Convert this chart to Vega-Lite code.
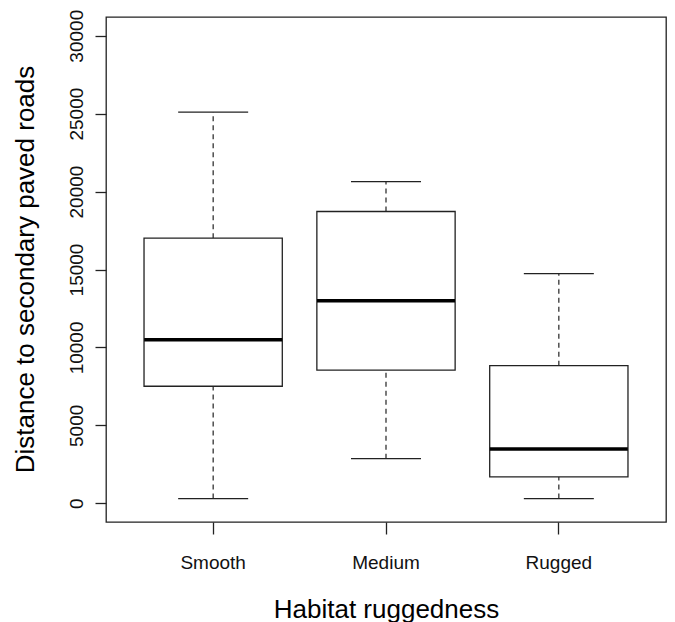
{
  "$schema": "https://vega.github.io/schema/vega-lite/v6.json",
  "autosize": {"type": "none"},
  "padding": {"left": 106, "top": 17, "right": 9, "bottom": 100},
  "width": 560,
  "height": 505,
  "background": "white",
  "config": {
    "font": "Liberation Sans",
    "view": {"stroke": "#222", "strokeWidth": 1.3},
    "axis": {"grid": false}
  },
  "data": {
    "values": [
      {"habitat": "Smooth", "min": 300, "q1": 7510, "median": 10500, "q3": 17010, "max": 25100},
      {"habitat": "Medium", "min": 2860, "q1": 8540, "median": 13000, "q3": 18720, "max": 20640},
      {"habitat": "Rugged", "min": 300, "q1": 1690, "median": 3490, "q3": 8830, "max": 14740}
    ]
  },
  "encoding": {
    "x": {
      "field": "habitat",
      "type": "nominal",
      "sort": ["Smooth", "Medium", "Rugged"],
      "scale": {"paddingInner": 0, "paddingOuter": 0.12},
      "axis": {
        "title": "Habitat ruggedness",
        "domain": false,
        "labelAngle": 0,
        "labelFontSize": 19,
        "labelColor": "#111",
        "labelPadding": 19,
        "tickSize": 12,
        "tickColor": "#222",
        "tickWidth": 1.3,
        "titleFontSize": 26,
        "titleFontWeight": "normal",
        "titleColor": "#000",
        "titleBaseline": "alphabetic",
        "titleY": 95
      }
    }
  },
  "layer": [
    {
      "mark": {"type": "rule", "strokeDash": [5, 4], "color": "#222", "strokeWidth": 1.2},
      "encoding": {
        "y": {
          "field": "q3",
          "type": "quantitative",
          "scale": {"domain": [-1200, 31200], "nice": false, "zero": false},
          "axis": {
            "title": "Distance to secondary paved roads",
            "values": [0, 5000, 10000, 15000, 20000, 25000, 30000],
            "domain": false,
            "labelAngle": -90,
            "labelAlign": "center",
            "labelBaseline": "alphabetic",
            "labelFontSize": 19,
            "labelColor": "#111",
            "labelPadding": 13,
            "tickSize": 11,
            "tickColor": "#222",
            "tickWidth": 1.3,
            "format": "d",
            "titleFontSize": 26,
            "titleFontWeight": "normal",
            "titleColor": "#000",
            "titleAngle": -90,
            "titleAlign": "center",
            "titleBaseline": "alphabetic",
            "titleX": -73,
            "titleY": 252
          }
        },
        "y2": {"field": "max"}
      }
    },
    {
      "mark": {"type": "rule", "strokeDash": [5, 4], "color": "#222", "strokeWidth": 1.2},
      "encoding": {
        "y": {"field": "min", "type": "quantitative"},
        "y2": {"field": "q1"}
      }
    },
    {
      "mark": {"type": "tick", "size": 70, "thickness": 1.3, "color": "#222", "opacity": 1},
      "encoding": {"y": {"field": "max", "type": "quantitative"}}
    },
    {
      "mark": {"type": "tick", "size": 70, "thickness": 1.3, "color": "#222", "opacity": 1},
      "encoding": {"y": {"field": "min", "type": "quantitative"}}
    },
    {
      "mark": {"type": "bar", "fill": "white", "stroke": "#222", "strokeWidth": 1.3, "width": {"band": 0.8}},
      "encoding": {
        "y": {"field": "q1", "type": "quantitative"},
        "y2": {"field": "q3"}
      }
    },
    {
      "mark": {"type": "tick", "size": 138, "thickness": 3.5, "color": "#000", "opacity": 1},
      "encoding": {"y": {"field": "median", "type": "quantitative"}}
    }
  ]
}
